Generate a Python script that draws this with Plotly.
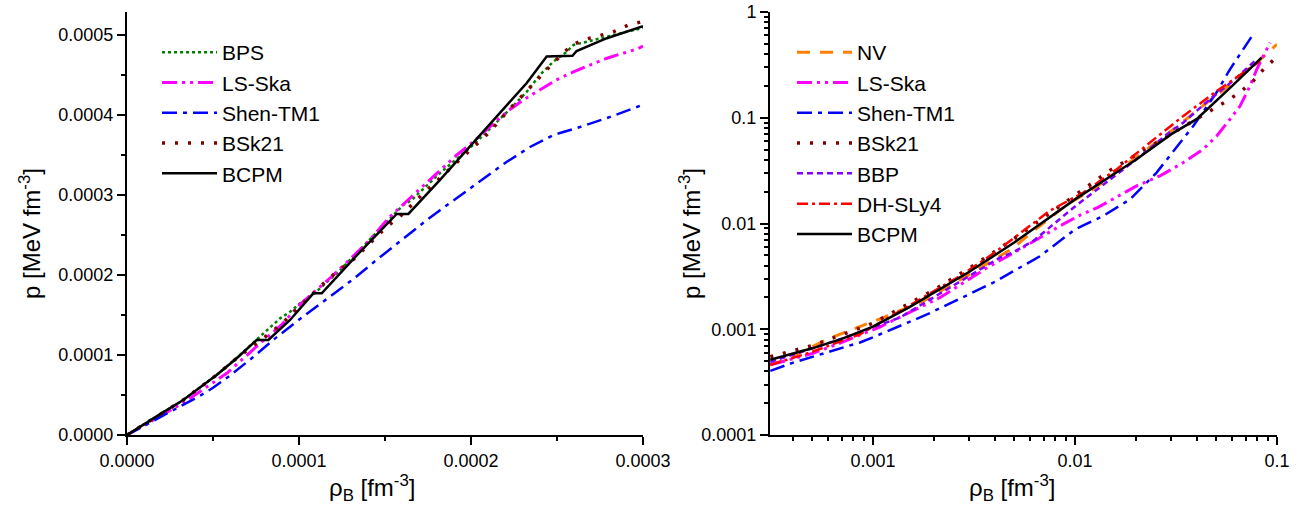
import plotly.graph_objects as go

# ---------------- Left panel (linear) ----------------
BPS_L_X = [0, 0.00001, 0.00002, 0.0000327, 0.0000521, 0.0000638, 0.0000773, 0.0000831, 0.000089, 0.0000948,
           0.0001006, 0.0001064, 0.00011, 0.0001238, 0.000135, 0.000145, 0.0001606, 0.0001655, 0.000182,
           0.0002012, 0.0002221, 0.0002324, 0.00024, 0.000248, 0.0002556, 0.0002596, 0.000275, 0.0003]
BPS_L_Y = [0, 0.000013, 0.000027, 0.0000437, 0.000075, 0.0000965, 0.0001229, 0.0001354, 0.0001458, 0.000154,
           0.0001646, 0.0001729, 0.000179, 0.000206, 0.000231, 0.000252, 0.0002875, 0.0002938, 0.0003275,
           0.0003625, 0.000406, 0.000429, 0.00045, 0.000467, 0.000479, 0.0004875, 0.000496, 0.000509]

LSSKA_L_X = [0, 0.00001, 0.00002, 0.0000326, 0.000058, 0.0000696, 0.0000763, 0.00009, 0.0001, 0.00012,
             0.0001393, 0.0001529, 0.0001665, 0.000182, 0.0001917, 0.0002014, 0.000211, 0.0002208, 0.0002305,
             0.00024, 0.0002497, 0.0002596, 0.0002692, 0.000279, 0.0002965, 0.0003]
LSSKA_L_Y = [0, 0.000012, 0.000025, 0.00004, 0.0000771, 0.0001, 0.0001125, 0.000138, 0.000162, 0.0002,
             0.0002396, 0.000273, 0.0003, 0.000331, 0.00035, 0.0003667, 0.0003854, 0.000404, 0.000419,
             0.000431, 0.000444, 0.000454, 0.0004625, 0.000471, 0.0004825, 0.000486]

SHEN_L_X = [0, 0.00001, 0.00002, 0.00003, 0.0000424, 0.00005, 0.00006, 0.0000725, 0.0000851, 0.0000987,
            0.0001122, 0.0001316, 0.0001452, 0.0001607, 0.0001751, 0.000182, 0.0002052, 0.0002198, 0.0002343,
            0.0002479, 0.0002634, 0.0002828, 0.0003]
SHEN_L_Y = [0, 0.0000115, 0.000024, 0.0000355, 0.000049, 0.000059, 0.0000745, 0.0000959, 0.000119, 0.000142,
            0.000164, 0.000195, 0.000219, 0.000246, 0.00027, 0.000281, 0.000317, 0.00034, 0.00036,
            0.000375, 0.000385, 0.000399, 0.000413]

BSK21_L_X = [0, 0.00001, 0.00002, 0.0000327, 0.0000521, 0.0000638, 0.0000793, 0.00009, 0.0001, 0.0001112,
             0.000118, 0.0001258, 0.000132, 0.000151, 0.0001587, 0.0001713, 0.0001965, 0.00021, 0.0002218,
             0.0002334, 0.000246, 0.0002585, 0.000267, 0.000275, 0.0002828, 0.0002916, 0.0003]
BSK21_L_Y = [0, 0.000013, 0.000027, 0.0000437, 0.000075, 0.000096, 0.000121, 0.000139, 0.00016, 0.0001825,
             0.000197, 0.00021, 0.00022, 0.0002604, 0.000273, 0.0003, 0.00035, 0.000377, 0.000406,
             0.000433, 0.000461, 0.0004875, 0.000495, 0.0004993, 0.000504, 0.0005125, 0.000517]

BCPM_L_X = [0, 0.00001, 0.00002, 0.0000327, 0.0000521, 0.0000638, 0.0000754, 0.0000822, 0.0000948, 0.0001083,
            0.0001132, 0.0001355, 0.0001568, 0.0001636, 0.000182, 0.0002324, 0.000244, 0.000259, 0.0002614,
            0.000279, 0.0003]
BCPM_L_Y = [0, 0.000013, 0.000027, 0.0000437, 0.000075, 0.0000959, 0.0001188, 0.0001188, 0.0001438, 0.0001771,
            0.0001771, 0.000229, 0.0002763, 0.0002763, 0.000319, 0.00044, 0.000473, 0.000474, 0.00048,
            0.000496, 0.000511]

# ---------------- Right panel (log-log) ----------------
NV_R_X = [0.00031, 0.000366, 0.000605, 0.000805, 0.00108, 0.00178, 0.003, 0.0049, 0.00622, 0.0093, 0.01226,
          0.02, 0.03, 0.042, 0.06, 0.0734, 0.1]
NV_R_Y = [0.00046, 0.000515, 0.000817, 0.001, 0.00125, 0.00185, 0.0033, 0.0058, 0.0085, 0.0155, 0.021,
          0.042, 0.075, 0.125, 0.213, 0.288, 0.495]

LSSKA_R_X = [0.00031, 0.0005, 0.0007, 0.00108, 0.00215, 0.00366, 0.00534, 0.00843, 0.0106, 0.013, 0.01436,
             0.0202, 0.02635, 0.0344, 0.0431, 0.0503, 0.0585, 0.0656, 0.0735, 0.0794, 0.0924]
LSSKA_R_Y = [0.00046, 0.00059, 0.00075, 0.00105, 0.002, 0.0038, 0.0057, 0.0095, 0.012, 0.0142, 0.0158,
             0.0227, 0.0282, 0.0377, 0.0504, 0.0673, 0.0968, 0.129, 0.2, 0.287, 0.514]

SHEN_R_X = [0.00031, 0.000403, 0.000862, 0.001, 0.00185, 0.00394, 0.0067, 0.01, 0.0138, 0.0187, 0.02535,
            0.0318, 0.0385, 0.0502, 0.0585, 0.0763]
SHEN_R_Y = [0.000404, 0.000484, 0.00075, 0.00084, 0.00138, 0.00276, 0.0049, 0.0088, 0.0118, 0.0169, 0.0303,
            0.0522, 0.0837, 0.173, 0.287, 0.617]

BSK21_R_X = [0.00031, 0.0005, 0.001, 0.002, 0.00314, 0.005, 0.0149, 0.0274, 0.04, 0.0503, 0.0585, 0.0667,
             0.0763, 0.0857, 0.099]
BSK21_R_Y = [0.00055, 0.0007, 0.00114, 0.00235, 0.004, 0.0072, 0.0318, 0.063, 0.0968, 0.125, 0.15, 0.179,
             0.223, 0.287, 0.37]

BBP_R_X = [0.00031, 0.000687, 0.00136, 0.00425, 0.0049, 0.00622, 0.01, 0.02, 0.03, 0.0344, 0.0466, 0.06, 0.0794]
BBP_R_Y = [0.00049, 0.000804, 0.00129, 0.00476, 0.0053, 0.00684, 0.0145, 0.04, 0.075, 0.09, 0.15, 0.22, 0.357]

SLY4_R_X = [0.00031, 0.000488, 0.000862, 0.0027, 0.00394, 0.0075, 0.011, 0.0161, 0.0235, 0.0344, 0.0503,
            0.068, 0.0824]
SLY4_R_Y = [0.00046, 0.000602, 0.000897, 0.00319, 0.0052, 0.0132, 0.0196, 0.0326, 0.0583, 0.104, 0.179,
            0.267, 0.344]

BCPM_R_X = [0.00031, 0.0005, 0.0007, 0.001, 0.0015, 0.002, 0.003, 0.005, 0.007, 0.01, 0.015, 0.02, 0.03,
            0.04, 0.06, 0.0839]
BCPM_R_Y = [0.000515, 0.00066, 0.00081, 0.00106, 0.0016, 0.0022, 0.0035, 0.0066, 0.0105, 0.0169, 0.028,
            0.04, 0.07, 0.097, 0.2, 0.371]

LEFT_X_TICKS = [0, 0.0001, 0.0002, 0.0003]
LEFT_Y_TICKS = [0, 0.0001, 0.0002, 0.0003, 0.0004, 0.0005]
RIGHT_X_TICKS = [0.001, 0.01, 0.1]
RIGHT_X_TEXT = ["0.001", "0.01", "0.1"]
RIGHT_Y_TICKS = [0.0001, 0.001, 0.01, 0.1, 1]
RIGHT_Y_TEXT = ["0.0001", "0.001", "0.01", "0.1", "1"]

# styles
STY = {
    "BPS": dict(color="#008000", dash="dot", width=2.5),
    "LS-Ska": dict(color="#FF00FF", dash="15px,5px,3px,5px,3px,5px", width=3),
    "Shen-TM1": dict(color="#0000FF", dash="15px,6px,4px,6px", width=2.5),
    "BSk21": dict(color="#800000", dash="3px,10px", width=3.5),
    "BCPM": dict(color="#000000", dash="solid", width=2.5),
    "NV": dict(color="#FF8000", dash="13px,10px", width=3),
    "BBP": dict(color="#8000FF", dash="6px,4px", width=2.5),
    "DH-SLy4": dict(color="#FF0000", dash="11px,4px,3px,4px", width=2.5),
}

FONT = "Liberation Sans, Arial, sans-serif"
fig = go.Figure()


def add(x, y, name, xa, ya, leg):
    fig.add_trace(go.Scatter(x=x, y=y, mode="lines", name=name, line=STY[name],
                             xaxis=xa, yaxis=ya, legend=leg, hoverinfo="skip"))


add(BPS_L_X, BPS_L_Y, "BPS", "x", "y", "legend")
add(LSSKA_L_X, LSSKA_L_Y, "LS-Ska", "x", "y", "legend")
add(SHEN_L_X, SHEN_L_Y, "Shen-TM1", "x", "y", "legend")
add(BSK21_L_X, BSK21_L_Y, "BSk21", "x", "y", "legend")
add(BCPM_L_X, BCPM_L_Y, "BCPM", "x", "y", "legend")

add(NV_R_X, NV_R_Y, "NV", "x2", "y2", "legend2")
add(LSSKA_R_X, LSSKA_R_Y, "LS-Ska", "x2", "y2", "legend2")
add(SHEN_R_X, SHEN_R_Y, "Shen-TM1", "x2", "y2", "legend2")
add(BSK21_R_X, BSK21_R_Y, "BSk21", "x2", "y2", "legend2")
add(BBP_R_X, BBP_R_Y, "BBP", "x2", "y2", "legend2")
add(SLY4_R_X, SLY4_R_Y, "DH-SLy4", "x2", "y2", "legend2")
add(BCPM_R_X, BCPM_R_Y, "BCPM", "x2", "y2", "legend2")

# body margin is removed by a post script, so figure covers the whole window
W, H = 1304, 508


def px(sx):
    return sx / W


def py(sy):
    return (H - sy) / H


XD_L = [px(127), px(643)]
XD_R = [px(770), px(1277)]
YD = [py(435), py(12)]
Y_TOP_L = 0.00052875
X_RANGE_R = [-3.51, -1]
Y_RANGE_R = [-4, 0]

common = dict(showgrid=False, zeroline=False, showline=True, linewidth=2, linecolor="black",
              tickwidth=1.5, tickcolor="black", ticklen=8, automargin=False, ticklabeloverflow="allow",
              tickfont=dict(family=FONT, size=18, color="black"))

minor_log = [m * 10.0 ** e for e in range(-5, 1) for m in range(2, 10)]

fig.update_layout(
    width=W, height=H, paper_bgcolor="white", plot_bgcolor="white",
    margin=dict(l=0, r=0, t=0, b=0, autoexpand=False), showlegend=True,
    font=dict(family=FONT, color="black"),
    xaxis=dict(domain=XD_L, range=[0, 0.0003], anchor="y", ticks="outside",
               tickvals=LEFT_X_TICKS, tickformat=".4f",
               minor=dict(ticks="outside", ticklen=4, tickwidth=1.5, dtick=0.00005, tick0=0),
               **common),
    yaxis=dict(domain=YD, range=[0, Y_TOP_L], anchor="x", ticks="outside",
               tickvals=LEFT_Y_TICKS, tickformat=".4f",
               minor=dict(ticks="outside", ticklen=4, tickwidth=1.5, dtick=0.00005, tick0=0),
               **common),
    xaxis3=dict(overlaying="x", side="top", anchor="y", range=[0, 0.0003], ticks="inside",
                tickvals=LEFT_X_TICKS, showticklabels=False,
                minor=dict(ticks="inside", ticklen=4, tickwidth=1.5, dtick=0.00005, tick0=0),
                **common),
    yaxis3=dict(overlaying="y", side="right", anchor="x", range=[0, Y_TOP_L], ticks="inside",
                tickvals=LEFT_Y_TICKS, showticklabels=False,
                minor=dict(ticks="inside", ticklen=4, tickwidth=1.5, dtick=0.00005, tick0=0),
                **common),
    xaxis2=dict(domain=XD_R, type="log", range=X_RANGE_R, anchor="y2", ticks="outside",
                tickvals=RIGHT_X_TICKS, ticktext=RIGHT_X_TEXT,
                minor=dict(ticks="outside", ticklen=4, tickwidth=1.5, tickmode="array", tickvals=minor_log),
                **common),
    yaxis2=dict(domain=YD, type="log", range=Y_RANGE_R, anchor="x2", ticks="outside",
                tickvals=RIGHT_Y_TICKS, ticktext=RIGHT_Y_TEXT,
                minor=dict(ticks="outside", ticklen=4, tickwidth=1.5, tickmode="array", tickvals=minor_log),
                **common),
    xaxis4=dict(overlaying="x2", side="top", anchor="y2", type="log", range=X_RANGE_R, ticks="inside",
                tickvals=RIGHT_X_TICKS, showticklabels=False,
                minor=dict(ticks="inside", ticklen=4, tickwidth=1.5, tickmode="array", tickvals=minor_log),
                **common),
    yaxis4=dict(overlaying="y2", side="right", anchor="x2", type="log", range=Y_RANGE_R, ticks="inside",
                tickvals=RIGHT_Y_TICKS, showticklabels=False,
                minor=dict(ticks="inside", ticklen=4, tickwidth=1.5, tickmode="array", tickvals=minor_log),
                **common),
    legend=dict(x=px(157), y=py(32), xanchor="left", yanchor="top", bgcolor="rgba(0,0,0,0)",
                font=dict(family=FONT, size=21, color="black"), itemwidth=55),
    legend2=dict(x=px(792), y=py(32), xanchor="left", yanchor="top", bgcolor="rgba(0,0,0,0)",
                 font=dict(family=FONT, size=21, color="black"), itemwidth=55),
)

TFONT = dict(family=FONT, size=24, color="black")
YT = "p [MeV fm<sup>-3</sup>]"
XT = "ρ<sub>B</sub> [fm<sup>-3</sup>]"
for txt, x, y, ang in [(YT, 30, 234, -90), (YT, 690, 234, -90), (XT, 372, 488, 0), (XT, 1012, 488, 0)]:
    fig.add_annotation(text=txt, x=px(x), y=py(y), xref="paper", yref="paper",
                       showarrow=False, textangle=ang, font=TFONT, xanchor="center", yanchor="middle")

fig.write_html("out.html", config={"displayModeBar": False},
               post_script="document.body.style.margin='0px';document.body.style.overflow='hidden';")
